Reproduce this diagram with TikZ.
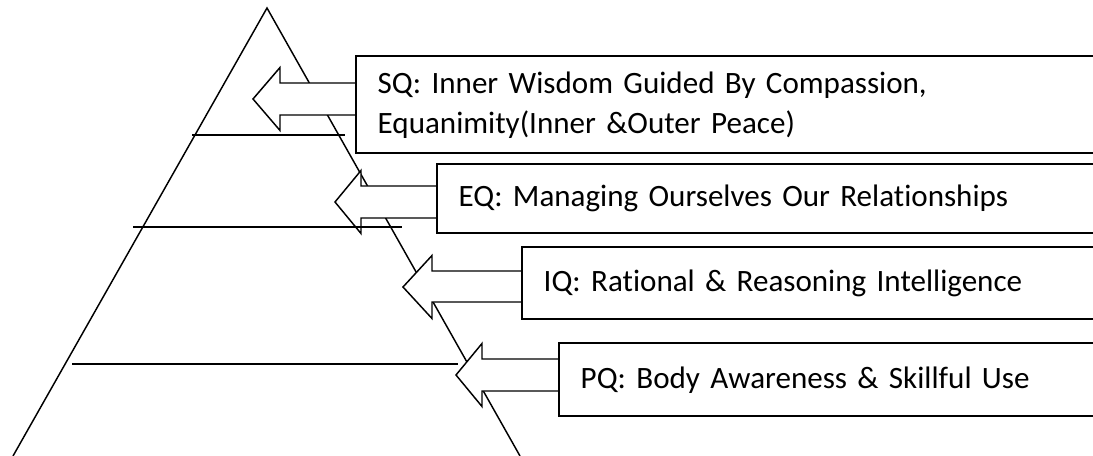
\documentclass[tikz,border=0pt]{standalone}
\usepackage{fontspec}
\setmainfont{Carlito}[Ligatures=NoCommon]
\usepackage{tikz}
\usetikzlibrary{calc}
\newcommand{\qfont}{\fontsize{23.3}{30}\selectfont}

\begin{document}
\frenchspacing
\begin{tikzpicture}[x=0.75pt,y=-0.75pt,line width=1.1pt,
		qbox/.style={draw,rectangle,anchor=north west,inner xsep=15.75pt,inner ysep=0pt,align=left,
			font=\qfont},
		blockarrow/.style={draw,fill=white,line join=miter}]
	\useasboundingbox (0,0) rectangle (1093,456);
	
	% pyramid
	\coordinate (apex) at (267,8);
	\coordinate (baseL) at (13,456);
	\coordinate (baseR) at (520,456);
	\draw (baseL) -- (apex) -- (baseR);
	
	% boxes
	\node[qbox,text width=534pt,minimum height=72pt] (sq) at (356,56)
		{SQ: Inner Wisdom Guided By Compassion,\\Equanimity(Inner \&Outer Peace)};
	\node[qbox,text width=473.25pt,minimum height=51pt] (eq) at (437,164)
		{EQ: Managing Ourselves Our Relationships};
	\node[qbox,text width=409.5pt,minimum height=53.25pt] (iq) at (522,247)
		{IQ: Rational \& Reasoning Intelligence};
	\node[qbox,text width=381.75pt,minimum height=54pt] (pq) at (559,343)
		{PQ: Body Awareness \& Skillful Use};
	
	% arrows
	\coordinate (sqtip) at (253,99);
	\coordinate (eqtip) at (335,202);
	\coordinate (iqtip) at (403,287);
	\coordinate (pqtip) at (456,375);
	\draw[blockarrow] (sqtip) -- ++(27,-31.5) -- ++(0,15.5) coordinate (a) -- (a -| sq.west) -- ++(0,32)
		-- ($(sqtip)+(27,16)$) -- ++(0,15.5) -- cycle;%sq%
	\draw[blockarrow] (eqtip) -- ++(26,-31.5) -- ++(0,15.5) coordinate (a) -- (a -| eq.west) -- ++(0,32)
		-- ($(eqtip)+(26,16)$) -- ++(0,15.5) -- cycle;%eq%
	\draw[blockarrow] (iqtip) -- ++(29,-31.5) -- ++(0,15.5) coordinate (a) -- (a -| iq.west) -- ++(0,31)
		-- ($(iqtip)+(29,15)$) -- ++(0,16.5) -- cycle;%iq%
	\draw[blockarrow] (pqtip) -- ++(26,-31.5) -- ++(0,15.5) coordinate (a) -- (a -| pq.west) -- ++(0,32)
		-- ($(pqtip)+(26,16)$) -- ++(0,15.5) -- cycle;%pq%
	
	% levels
	\coordinate (l1a) at (192,135); \coordinate (l1b) at (345,135);
	\coordinate (l2a) at (133,227); \coordinate (l2b) at (402,227);
	\coordinate (l3a) at (72,364);  \coordinate (l3b) at (458,364);
	\draw (l1a) -- (l1b);
	\draw (l2a) -- (l2b);
	\draw (l3a) -- (l3b);
	
	% box frames again on top of arrows
	\draw (sq.north west) rectangle (sq.south east);
	\draw (eq.north west) rectangle (eq.south east);
	\draw (iq.north west) rectangle (iq.south east);
	\draw (pq.north west) rectangle (pq.south east);
\end{tikzpicture}
\end{document}
